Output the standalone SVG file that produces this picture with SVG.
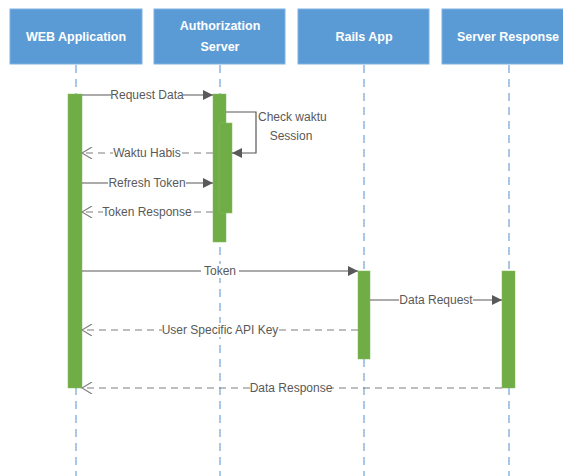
<svg xmlns="http://www.w3.org/2000/svg" width="563" height="476" viewBox="0 0 563 476">
<style>
.hdr{fill:#5B9BD5;stroke:#7FB2E0;stroke-width:1}
.ht{font-family:"Liberation Sans",Arial,sans-serif;font-size:12.5px;font-weight:bold;fill:#fff;text-anchor:middle}
.life{stroke:#6FA3D8;stroke-width:1.2;stroke-dasharray:8 6;fill:none}
.bar{fill:#70AD47;stroke:#82BC5B;stroke-width:0.5}
.sol{stroke:#595959;stroke-width:1.2;fill:none}
.dsh{stroke:#7F7F7F;stroke-width:1.2;stroke-dasharray:7 5;fill:none}
.lbl{font-family:"Liberation Sans",Arial,sans-serif;font-size:12px;fill:#595959;text-anchor:middle}
.bg{fill:#fff}
</style>
<defs>
<marker id="fa" markerWidth="10" markerHeight="10" refX="10" refY="5" orient="auto" markerUnits="userSpaceOnUse">
<path d="M0,0 L10,5 L0,10 Z" fill="#595959"/>
</marker>
<marker id="oa" markerWidth="12" markerHeight="12" refX="11" refY="6" orient="auto" markerUnits="userSpaceOnUse">
<path d="M1,0 L11,6 L1,12" fill="none" stroke="#7F7F7F" stroke-width="1.2"/>
</marker>
</defs>
<rect width="563" height="476" fill="#fff"/>
<g id="web">
<rect class="hdr" x="10" y="9" width="132" height="55"/>
<text class="ht" x="76" y="41">WEB Application</text>
<line class="life" x1="76" y1="65" x2="76" y2="476"/>
</g>
<g id="auth">
<rect class="hdr" x="154" y="9" width="131" height="55"/>
<text class="ht" x="220" y="30">Authorization</text>
<text class="ht" x="220" y="51">Server</text>
<line class="life" x1="220" y1="65" x2="220" y2="476"/>
</g>
<g id="rails">
<rect class="hdr" x="298" y="9" width="131" height="55"/>
<text class="ht" x="364" y="41">Rails App</text>
<line class="life" x1="364" y1="65" x2="364" y2="476"/>
</g>
<g id="server">
<rect class="hdr" x="442" y="9" width="131" height="55"/>
<text class="ht" x="508" y="41">Server Response</text>
<line class="life" x1="509" y1="65" x2="509" y2="476"/>
</g>
<g id="activations">
<rect class="bar" x="68" y="94" width="14" height="294"/>
<rect class="bar" x="213" y="94" width="13" height="148"/>
<rect class="bar" x="219" y="123" width="13" height="90"/>
<rect class="bar" x="358" y="271" width="12" height="88"/>
<rect class="bar" x="502" y="271" width="13" height="117"/>
</g>
<g id="connectors">
<line class="sol" x1="82" y1="95" x2="213" y2="95" marker-end="url(#fa)"/>
<rect class="bg" x="111" y="88" width="72" height="14"/>
<text class="lbl" x="147" y="99">Request Data</text>

<polyline class="sol" points="226,112 256,112 256,153 232,153" marker-end="url(#fa)"/>
<text class="lbl" x="258" y="121" style="text-anchor:start">Check waktu</text>
<text class="lbl" x="291" y="140">Session</text>

<line class="dsh" x1="213" y1="153" x2="82" y2="153" marker-end="url(#oa)"/>
<rect class="bg" x="113" y="146" width="68" height="14"/>
<text class="lbl" x="147" y="157">Waktu Habis</text>

<line class="sol" x1="82" y1="183" x2="213" y2="183" marker-end="url(#fa)"/>
<rect class="bg" x="108" y="176" width="78" height="14"/>
<text class="lbl" x="147" y="187">Refresh Token</text>

<line class="dsh" x1="213" y1="212" x2="82" y2="212" marker-end="url(#oa)"/>
<rect class="bg" x="103" y="205" width="88" height="14"/>
<text class="lbl" x="147" y="216">Token Response</text>

<line class="sol" x1="82" y1="271" x2="358" y2="271" marker-end="url(#fa)"/>
<rect class="bg" x="201" y="264" width="38" height="14"/>
<text class="lbl" x="220" y="275">Token</text>

<line class="sol" x1="370" y1="300" x2="502" y2="300" marker-end="url(#fa)"/>
<rect class="bg" x="399" y="293" width="74" height="14"/>
<text class="lbl" x="436" y="304">Data Request</text>

<line class="dsh" x1="358" y1="330" x2="82" y2="330" marker-end="url(#oa)"/>
<rect class="bg" x="162" y="323" width="116" height="14"/>
<text class="lbl" x="220" y="334">User Specific API Key</text>

<line class="dsh" x1="502" y1="388" x2="82" y2="388" marker-end="url(#oa)"/>
<rect class="bg" x="251" y="381" width="80" height="14"/>
<text class="lbl" x="291" y="392">Data Response</text>
</g>
</svg>
